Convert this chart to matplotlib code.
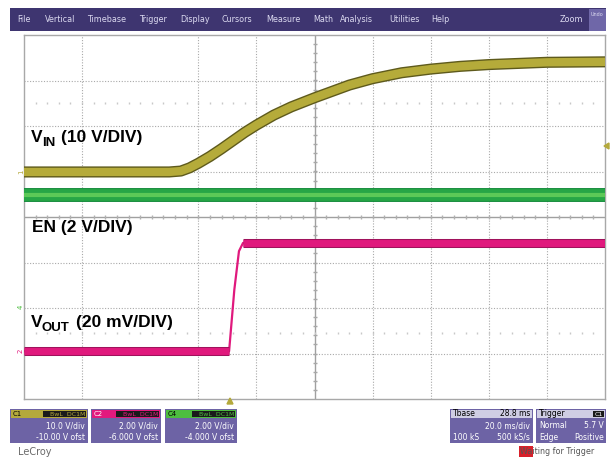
import numpy as np
import matplotlib.pyplot as plt
import matplotlib.patheffects as pe
from matplotlib.patches import Rectangle

# screen is 10 x 8 divisions, values below are in divisions
vin_t = [0.0, 2.5, 2.7, 2.85, 3.0, 3.2, 3.4, 3.6, 3.8, 4.0, 4.3, 4.6, 5.0, 5.3, 5.6,
         6.0, 6.5, 7.0, 7.5, 8.0, 9.0, 10.0]
vin_v = [4.99, 4.99, 5.01, 5.08, 5.18, 5.33, 5.50, 5.68, 5.86, 6.02, 6.24, 6.42, 6.62,
         6.76, 6.90, 7.04, 7.17, 7.25, 7.31, 7.35, 7.40, 7.41]
c4_t = [0.0, 10.0]
c4_v = [4.48, 4.48]
en_t = [0.0, 3.53, 3.62, 3.70, 3.77, 10.0]
en_v = [1.05, 1.05, 2.40, 3.25, 3.43, 3.43]

grid_x = [1, 3, 4, 6, 7, 8, 9]
grid_y = [1, 2, 3, 5, 6, 7]
dot_rows = [1.45, 6.5]

menu_items = ["File", "Vertical", "Timebase", "Trigger", "Display", "Cursors",
              "Measure", "Math", "Analysis", "Utilities", "Help"]
menu_x = [17, 45, 87, 139, 180, 221, 266, 313, 340, 389, 431]

ch_names = ["C1", "C2", "C4"]
ch_colors = ["#b4a93c", "#e2197e", "#4dbd3f"]
ch_scale = ["10.0 V/div", "2.00 V/div", "2.00 V/div"]
ch_offset = ["-10.00 V ofst", "-6.000 V ofst", "-4.000 V ofst"]
ch_box_x = [10, 91, 165]
ch_box_w = [78, 70, 72]

W, H = 610, 458
fig = plt.figure(figsize=(W / 100, H / 100), dpi=100)
fig.patch.set_facecolor("white")

def fx(px):
    return px / W

def fy(py):
    return 1 - py / H

ax = fig.add_axes([fx(24), fy(399), fx(605) - fx(24), fy(35) - fy(399)])
ax.set_xlim(0, 10)
ax.set_ylim(0, 8)
ax.set_xticks([])
ax.set_yticks([])
for s in ax.spines.values():
    s.set_color("#a8a8a8")
    s.set_linewidth(1.0)

gcol = "#a9a9a9"
for gx in grid_x:
    ax.axvline(gx, color=gcol, lw=0.8, ls=(0, (1, 1.5)), zorder=1)
for gy in grid_y:
    ax.axhline(gy, color=gcol, lw=0.8, ls=(0, (1, 1.5)), zorder=1)
ax.axvline(5, color="#a0a0a0", lw=1.0, zorder=1)
ax.axhline(4, color="#a0a0a0", lw=1.0, zorder=1)

minor = np.arange(0.2, 10, 0.2)
ax.plot(minor, [4] * len(minor), ls="none", marker="|", ms=3, color="#b0b0b0", zorder=1)
minor_y = np.arange(0.2, 8, 0.2)
ax.plot([5] * len(minor_y), minor_y, ls="none", marker="_", ms=3, color="#a8a8a8", zorder=1)
for r in dot_rows:
    ax.plot(minor, [r] * len(minor), ls="none", marker="|", ms=2, color="#c8c8c8", zorder=1)

# traces
ax.plot(c4_t, c4_v, color="#27a646", lw=8.5, solid_capstyle="butt", zorder=3,
        path_effects=[pe.Stroke(linewidth=10, foreground="#128a3a"), pe.Normal()])
ax.plot(c4_t, c4_v, color="#5cc957", lw=3, solid_capstyle="butt", zorder=3)

ax.plot(vin_t, vin_v, color="#b5ab3a", lw=6, solid_capstyle="butt", zorder=4,
        path_effects=[pe.Stroke(linewidth=8, foreground="#5e5a1c"), pe.Normal()])

ax.plot(en_t, en_v, color="#e0197d", lw=1.6, zorder=4)
ax.plot(en_t[:2], en_v[:2], color="#e0197d", lw=5, solid_capstyle="butt", zorder=4,
        path_effects=[pe.Stroke(linewidth=6.5, foreground="#a0125c"), pe.Normal()])
ax.plot(en_t[-2:], en_v[-2:], color="#e0197d", lw=5, solid_capstyle="butt", zorder=4,
        path_effects=[pe.Stroke(linewidth=6.5, foreground="#a0125c"), pe.Normal()])

# channel markers
fig.text(fx(21), fy(172), "1", color="#b4a93c", fontsize=5, rotation=90, ha="center", va="center")
fig.text(fx(21), fy(307), "4", color="#4dbd3f", fontsize=5, rotation=90, ha="center", va="center")
fig.text(fx(21), fy(351), "2", color="#e2197e", fontsize=5, rotation=90, ha="center", va="center")
fig.patches.append(plt.Polygon([[fx(604), fy(146)], [fx(609), fy(143)], [fx(609), fy(149)]],
                               closed=True, color="#b4a93c", transform=fig.transFigure))
fig.patches.append(plt.Polygon([[fx(227), fy(404)], [fx(233), fy(404)], [fx(230), fy(398)]],
                               closed=True, color="#b4a93c", transform=fig.transFigure))

# trace labels
lab = dict(family="Liberation Sans", fontweight="bold", color="black", va="baseline")
fig.text(fx(31), fy(142), "V", fontsize=12.5, **lab)
fig.text(fx(42), fy(146), "IN", fontsize=9.5, **lab)
fig.text(fx(61), fy(142), "(10 V/DIV)", fontsize=12.5, **lab)
fig.text(fx(32), fy(232), "EN (2 V/DIV)", fontsize=12.5, **lab)
fig.text(fx(31), fy(327), "V", fontsize=12.5, **lab)
fig.text(fx(42), fy(331), "OUT", fontsize=9.5, **lab)
fig.text(fx(76), fy(327), "(20 mV/DIV)", fontsize=12.5, **lab)

# menu bar
def rect(x0, y0, x1, y1, color):
    fig.patches.append(Rectangle((fx(x0), fy(y1)), fx(x1) - fx(x0), fy(y0) - fy(y1),
                                 transform=fig.transFigure, facecolor=color,
                                 edgecolor="none", lw=0))

rect(10, 8, 606, 31, "#3e3570")
rect(589, 9, 606, 31, "#6f67a8")
small = dict(family="DejaVu Sans", fontsize=5.8, va="center")
for name, x in zip(menu_items, menu_x):
    fig.text(fx(x), fy(20), name, color="#dcdaf0", **small)
fig.text(fx(560), fy(20), "Zoom", color="#dcdaf0", **small)
fig.text(fx(597), fy(15), "Undo", color="#dcdaf0", family="DejaVu Sans", fontsize=3.5,
         ha="center", va="center")

# channel boxes
body = "#6d63a5"
for name, col, sc, of, bx, bw in zip(ch_names, ch_colors, ch_scale, ch_offset, ch_box_x, ch_box_w):
    rect(bx, 409, bx + bw, 443, body)
    rect(bx + 1, 410, bx + bw - 1, 418, col)
    rect(bx + bw - 45, 411, bx + bw - 2, 417, "#1a1a1a")
    fig.text(fx(bx + 3), fy(414), name, color="white" if name == "C2" else "black",
             fontsize=5, family="DejaVu Sans", va="center")
    fig.text(fx(bx + bw - 3), fy(414), "BwL  DC1M", color=col, fontsize=4.5,
             family="DejaVu Sans", va="center", ha="right")
    fig.text(fx(bx + bw - 3), fy(426), sc, color="white", fontsize=5.5,
             family="DejaVu Sans", va="center", ha="right")
    fig.text(fx(bx + bw - 3), fy(437), of, color="white", fontsize=5.5,
             family="DejaVu Sans", va="center", ha="right")

# timebase box
rect(450, 409, 533, 443, body)
rect(451, 410, 532, 418, "#cfcde3")
fig.text(fx(453), fy(414), "Tbase", color="black", fontsize=5.5, family="DejaVu Sans", va="center")
fig.text(fx(530), fy(414), "28.8 ms", color="black", fontsize=5.5, family="DejaVu Sans",
         va="center", ha="right")
fig.text(fx(530), fy(426), "20.0 ms/div", color="white", fontsize=5.5, family="DejaVu Sans",
         va="center", ha="right")
fig.text(fx(453), fy(437), "100 kS", color="white", fontsize=5.5, family="DejaVu Sans", va="center")
fig.text(fx(530), fy(437), "500 kS/s", color="white", fontsize=5.5, family="DejaVu Sans",
         va="center", ha="right")

# trigger box
rect(536, 409, 606, 443, body)
rect(537, 410, 605, 418, "#cfcde3")
rect(593, 411, 604, 417, "#1a1a1a")
fig.text(fx(539), fy(414), "Trigger", color="black", fontsize=5.5, family="DejaVu Sans", va="center")
fig.text(fx(598.5), fy(414), "C1", color="white", fontsize=4.5, family="DejaVu Sans",
         va="center", ha="center")
fig.text(fx(539), fy(426), "Normal", color="white", fontsize=5.5, family="DejaVu Sans", va="center")
fig.text(fx(604), fy(426), "5.7 V", color="white", fontsize=5.5, family="DejaVu Sans",
         va="center", ha="right")
fig.text(fx(539), fy(437), "Edge", color="white", fontsize=5.5, family="DejaVu Sans", va="center")
fig.text(fx(604), fy(437), "Positive", color="white", fontsize=5.5, family="DejaVu Sans",
         va="center", ha="right")

# footer
fig.text(fx(18), fy(452), "LeCroy", color="#6a6a6a", fontsize=7, family="DejaVu Sans", va="center")
rect(519, 446, 533, 457, "#d8202a")
fig.text(fx(520), fy(452), "Waiting for Trigger", color="#555555", fontsize=5.8,
         family="DejaVu Sans", va="center")

fig.savefig("out.png", dpi=100)
